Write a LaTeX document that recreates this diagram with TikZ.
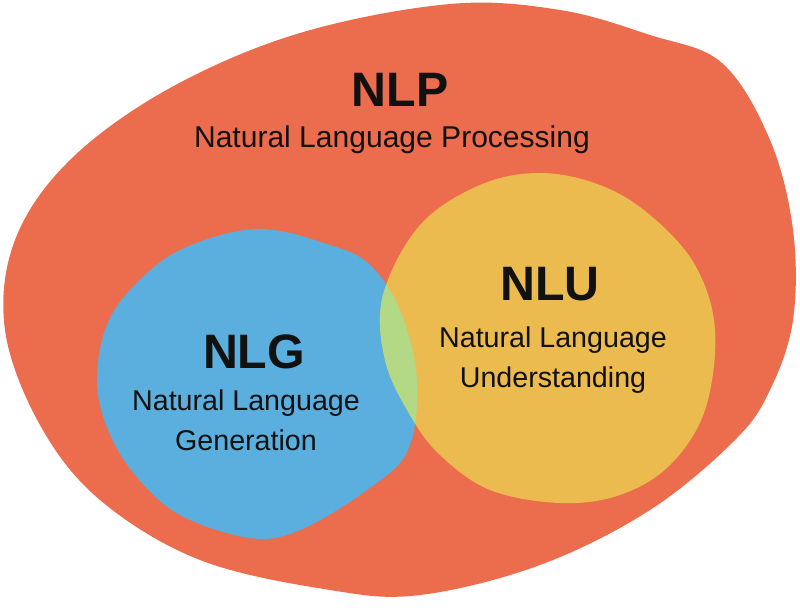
\documentclass[tikz,border=0pt]{standalone}
\usepackage{fontspec}
\setmainfont{Liberation Sans}
\usetikzlibrary{positioning}
\definecolor{nlpred}{HTML}{EC6C4E}
\definecolor{nlgblue}{HTML}{5AAFDF}
\definecolor{nluyellow}{HTML}{ECBB4F}
\definecolor{overlapgreen}{HTML}{B3D886}
\definecolor{labeltext}{HTML}{111111}
\begin{document}
\begin{tikzpicture}[x=0.02cm, y=-0.02cm,
    title/.style={text=labeltext, anchor=base, inner sep=0pt, font=\fontsize{27.5}{30}\selectfont\bfseries},
    desc/.style={text=labeltext, anchor=base, inner sep=0pt, align=center, font=\fontsize{16.3}{22.6}\selectfont}]
    \useasboundingbox (0, 0) rectangle (800, 611);
    % outer blob
    \fill[nlpred] plot[smooth cycle, tension=0.6] coordinates {(450, 4) (560, 10) (650, 35) (722, 63) (770, 140) (793, 230) (793, 320) (770, 390) (735, 440) (650, 510) (540, 565) (420, 595) (330, 590) (200, 560) (100, 500) (40, 425) (5, 330) (15, 240) (70, 160) (170, 88) (300, 33)};
    % inner blobs
    \def\nlgpath{plot[smooth cycle, tension=0.6] coordinates {(257, 229) (330, 245) (370, 265) (400, 310) (417, 380) (408, 450) (367, 490) (300, 530) (250, 538) (180, 515) (135, 475) (108, 430) (97, 383) (105, 330) (130, 290) (180, 250)}}
    \def\nlupath{plot[smooth cycle, tension=0.6] coordinates {(540, 173) (600, 185) (650, 215) (695, 265) (715, 330) (705, 410) (670, 465) (620, 495) (560, 503) (490, 490) (440, 455) (410, 415) (385, 360) (383, 295) (420, 225) (480, 185)}}
    \fill[nlgblue] \nlgpath;
    \fill[nluyellow] \nlupath;
    \begin{scope}
      \clip \nlgpath;
      \fill[overlapgreen] \nlupath;
    \end{scope}
    % labels (desc nodes sit on the baseline of their last line)
    \node[title] (nlp) at (400, 107) {NLP};
    \node[desc, font=\fontsize{17.1}{22.6}\selectfont] (nlpdesc) at (392, 148) {Natural Language Processing};
    \node[title] (nlu) at (550, 300) {NLU};
    \node[desc] (nludesc) at (553, 387) {Natural Language\\Understanding};
    \node[title] (nlg) at (254, 368) {NLG};
    \node[desc] (nlgdesc) at (246, 450) {Natural Language\\Generation};
\end{tikzpicture}
\end{document}
